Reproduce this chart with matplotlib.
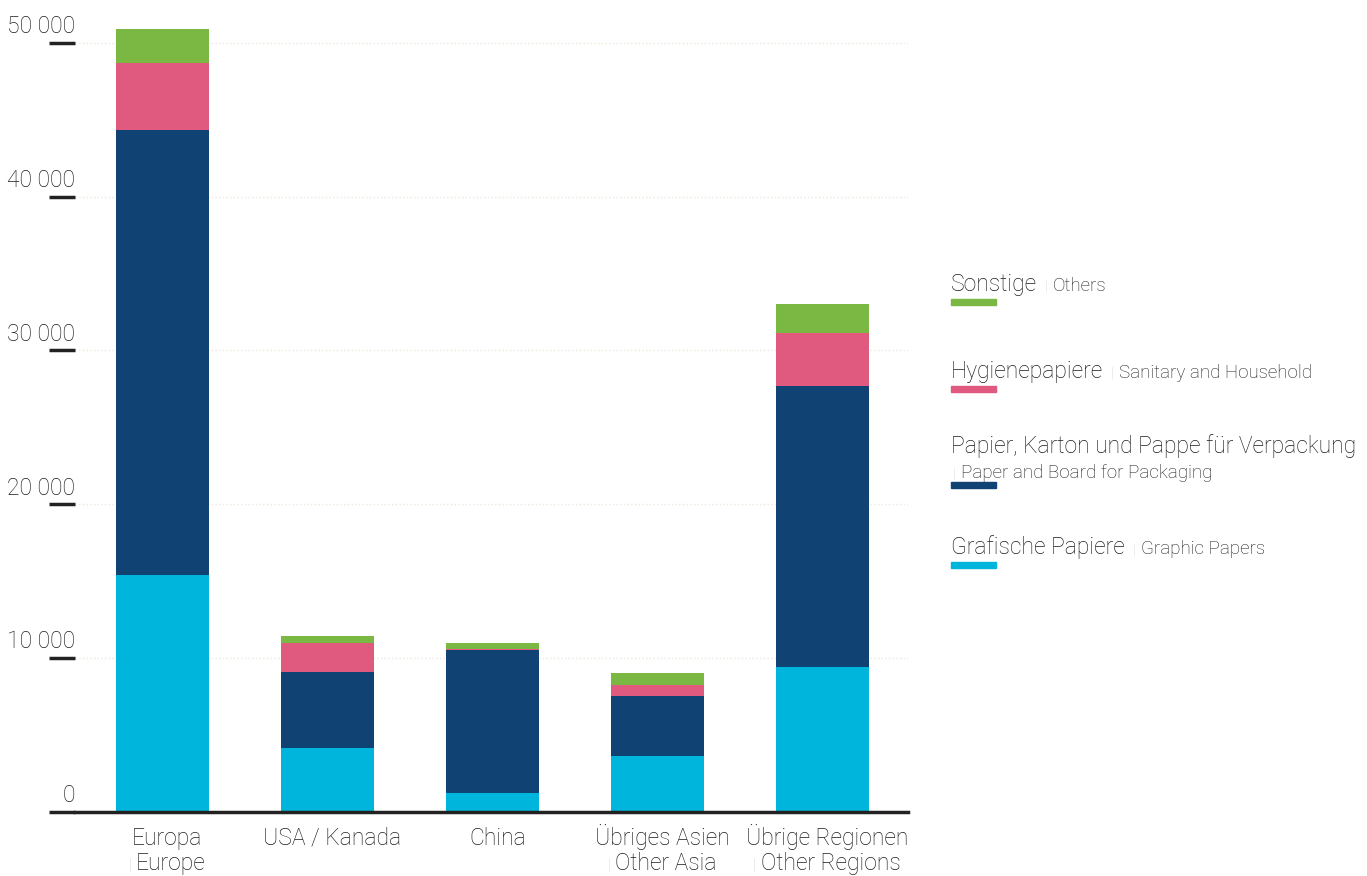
import numpy as np
import matplotlib.pyplot as plt

plt.rcParams['font.family'] = ['Roboto', 'DejaVu Sans']
plt.rcParams['font.weight'] = 'light'

regionen = ['Europa', 'USA / Kanada', 'China', 'Übriges Asien', 'Übrige Regionen']
regionen_en = ['Europe', '', '', 'Other Asia', 'Other Regions']

# Werte in 1000 t
grafisch = [15400, 4160, 1240, 3640, 9430]
verpackung = [28940, 4940, 9290, 3900, 18270]
hygiene = [4360, 1890, 70, 720, 3440]
sonstige = [2200, 450, 390, 780, 1890]

sorten_de = ['Grafische Papiere', 'Papier, Karton und Pappe für Verpackung', 'Hygienepapiere', 'Sonstige']
sorten_en = ['Graphic Papers', 'Paper and Board for Packaging', 'Sanitary and Household', 'Others']
farben = ['#00b5db', '#114274', '#e05a80', '#7ab743']

y_ticks = [0, 10000, 20000, 30000, 40000, 50000]

W, H = 1367, 876
TXT = '#1c1c1c'
GRAU = '#d5d5cc'

def px(x, y):
    return x / W, 1 - y / H

fig = plt.figure(figsize=(W / 100, H / 100), dpi=100)
ax = fig.add_axes([75 / W, 64 / H, 833 / W, 800 / H])

x = np.arange(len(regionen))
unten = np.zeros(len(regionen))
for werte, farbe in zip([grafisch, verpackung, hygiene, sonstige], farben):
    ax.bar(x, werte, 0.565, bottom=unten, color=farbe, zorder=3)
    unten += np.array(werte)

ax.set_xlim(-0.53, 4.52)
ax.set_ylim(0, 52000)
for s in ['top', 'right', 'left']:
    ax.spines[s].set_visible(False)
ax.spines['bottom'].set_linewidth(2.5)
ax.spines['bottom'].set_color('#222222')
ax.spines['bottom'].set_zorder(4)

ax.set_xticks([])
ax.set_yticks(y_ticks)
ax.set_yticklabels([])
ax.tick_params(axis='y', length=19, width=2.5, color='#222222')
ax.yaxis.grid(True, color='#ece9dc', linestyle=':', linewidth=1, zorder=0)

for v in y_ticks:
    lab = f'{v:,}'.replace(',', ' ')
    ax.annotate(lab, xy=(0, v), xycoords=('axes fraction', 'data'),
                xytext=(0, 7), textcoords='offset points',
                ha='right', va='baseline', fontsize=16.5, color=TXT)

# Kategorien
for i, (de, en) in enumerate(zip(regionen, regionen_en)):
    ax.text(i + 0.03, -33 / 800, de, transform=ax.get_xaxis_transform(),
            ha='center', va='baseline', fontsize=16.5, color=TXT)

fig.canvas.draw()
r = fig.canvas.get_renderer()

for i, en in enumerate(regionen_en):
    if not en:
        continue
    t = ax.text(i + 0.05, -58 / 800, en, transform=ax.get_xaxis_transform(),
                ha='center', va='baseline', fontsize=16.5, color=TXT)
    bb = t.get_window_extent(r)
    fig.text(bb.x0 / W - 6 / W, px(0, 870)[1], '|', ha='center', va='baseline',
             fontsize=12, color=GRAU)

# Legende
leg_y = {3: 291, 2: 378, 1: 453, 0: 554}
balken_y = {3: 299, 2: 386, 1: 482, 0: 562}
for k in [3, 2, 1, 0]:
    t = fig.text(*px(951, leg_y[k]), sorten_de[k], ha='left', va='baseline',
                 fontsize=16.5, color=TXT)
    if k == 1:
        sx = 954
        sy = 478
    else:
        bb = t.get_window_extent(r)
        sx = bb.x1 + 9
        sy = leg_y[k]
    fig.text(*px(sx, sy), '|', ha='center', va='baseline', fontsize=11, color=GRAU)
    fig.text(*px(sx + 7, sy), sorten_en[k], ha='left', va='baseline',
             fontsize=13.5, color=TXT)
    fig.patches.append(plt.Rectangle(px(951, balken_y[k] + 6), 45 / W, 6 / H,
                                     transform=fig.transFigure, color=farben[k]))

fig.savefig('out.png', dpi=100)
